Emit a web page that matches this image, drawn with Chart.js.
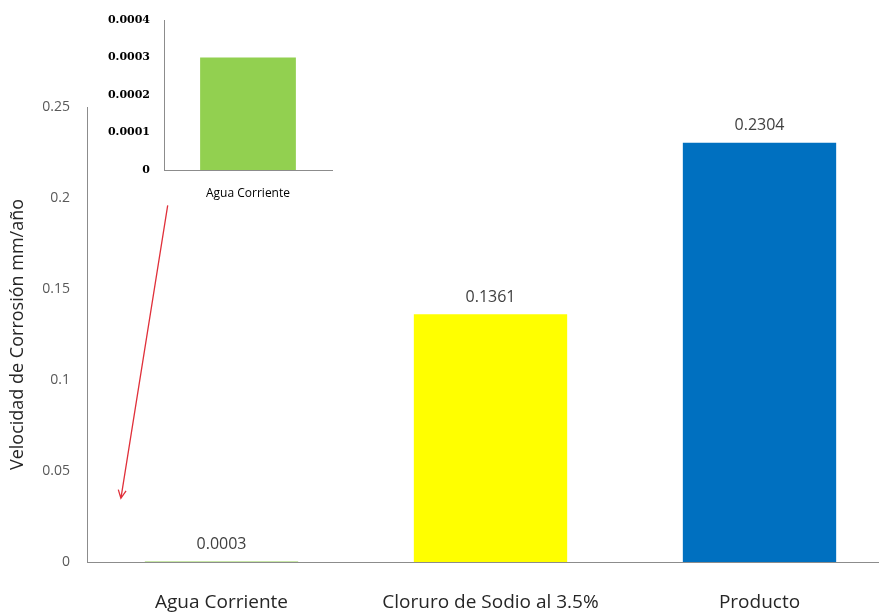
<!DOCTYPE html>
<html>
<head>
<meta charset="utf-8">
<script src="https://cdn.jsdelivr.net/npm/chart.js@4"></script>
<style>
  html, body { margin: 0; padding: 0; background: #fff; overflow: hidden; }
  #wrap { position: relative; width: 879px; height: 612px; overflow: hidden; }
  #main { position: absolute; left: 0; top: 0; }
  #inset { position: absolute; left: 0; top: 0; }
</style>
</head>
<body>
<div id="wrap">
  <canvas id="main" width="895" height="612"></canvas>
  <canvas id="inset" width="340" height="210"></canvas>
</div>
<script>
// data
const categories = ['Agua Corriente', 'Cloruro de Sodio al 3.5%', 'Producto'];
const rates = [0.0003, 0.1361, 0.2304];
const barColors = ['#92D050', '#FFFF00', '#0070C0'];
const yTicks = [0, 0.05, 0.1, 0.15, 0.2, 0.25];

const insetCategories = ['Agua Corriente'];
const insetRates = [0.0003];
const insetTicks = [0, 0.0001, 0.0002, 0.0003, 0.0004];

// arrow from the inset down to the small bar (category index, value)
const arrowFrom = [-0.2, 0.196];
const arrowTo = [-0.374, 0.035];

// value labels above the bars
const valueLabels = {
  id: 'valueLabels',
  afterDatasetsDraw(chart) {
    const ctx = chart.ctx;
    const meta = chart.getDatasetMeta(0);
    ctx.save();
    ctx.font = '16px "Open Sans"';
    ctx.fillStyle = '#404040';
    ctx.textAlign = 'center';
    ctx.textBaseline = 'middle';
    meta.data.forEach((bar, i) => {
      ctx.fillText(String(rates[i]), bar.x, bar.y - 17);
    });
    ctx.restore();
  }
};

const arrow = {
  id: 'arrow',
  afterDraw(chart) {
    const x = chart.scales.x, y = chart.scales.y;
    const x1 = x.getPixelForValue(arrowFrom[0]), y1 = y.getPixelForValue(arrowFrom[1]);
    const x2 = x.getPixelForValue(arrowTo[0]), y2 = y.getPixelForValue(arrowTo[1]);
    const ctx = chart.ctx;
    const a = Math.atan2(y2 - y1, x2 - x1);
    ctx.save();
    ctx.strokeStyle = '#E0303A';
    ctx.lineWidth = 1.3;
    ctx.beginPath();
    ctx.moveTo(x1, y1);
    ctx.lineTo(x2, y2);
    ctx.moveTo(x2 - 9 * Math.cos(a - 0.45), y2 - 9 * Math.sin(a - 0.45));
    ctx.lineTo(x2, y2);
    ctx.lineTo(x2 - 9 * Math.cos(a + 0.45), y2 - 9 * Math.sin(a + 0.45));
    ctx.stroke();
    ctx.restore();
  }
};

new Chart(document.getElementById('main'), {
  type: 'bar',
  data: {
    labels: categories,
    datasets: [{
      data: rates,
      backgroundColor: barColors,
      borderWidth: 0,
      barPercentage: 0.57,
      categoryPercentage: 1
    }]
  },
  options: {
    responsive: false,
    animation: false,
    layout: { padding: { top: 107, right: 1, left: 0, bottom: 0 } },
    plugins: { legend: { display: false }, tooltip: { enabled: false } },
    scales: {
      x: {
        grid: { display: false },
        border: { display: true, color: '#8C8C8C', width: 1 },
        ticks: { font: { family: 'Open Sans', size: 19 }, color: '#262626', padding: 21, maxRotation: 0 },
        afterFit(s) { s.height = 50; }
      },
      y: {
        min: 0,
        max: 0.25,
        grid: { display: false },
        border: { display: true, color: '#8C8C8C', width: 1 },
        afterBuildTicks(s) { s.ticks = yTicks.map(v => ({ value: v })); },
        ticks: {
          font: { family: 'Open Sans', size: 14 },
          color: '#595959',
          padding: 9,
          callback: v => String(v)
        },
        title: {
          display: true,
          text: 'Velocidad de Corrosión mm/año',
          font: { family: 'Open Sans', size: 18 },
          color: '#262626',
          padding: { top: 7, bottom: 0 }
        },
        afterFit(s) { s.width = 87; }
      }
    }
  },
  plugins: [valueLabels, arrow]
});

new Chart(document.getElementById('inset'), {
  type: 'bar',
  data: {
    labels: insetCategories,
    datasets: [{
      data: insetRates,
      backgroundColor: '#92D050',
      borderWidth: 0,
      barPercentage: 0.57,
      categoryPercentage: 1
    }]
  },
  options: {
    responsive: false,
    animation: false,
    layout: { padding: { top: 20, right: 8, left: 0, bottom: 0 } },
    plugins: { legend: { display: false }, tooltip: { enabled: false } },
    scales: {
      x: {
        grid: { display: false },
        border: { display: true, color: '#8C8C8C', width: 1 },
        ticks: { font: { family: 'Open Sans', size: 12 }, color: '#000', padding: 8, maxRotation: 0 },
        afterFit(s) { s.height = 40; }
      },
      y: {
        min: 0,
        max: 0.0004,
        grid: { display: false },
        border: { display: true, color: '#8C8C8C', width: 1 },
        afterBuildTicks(s) { s.ticks = insetTicks.map(v => ({ value: v })); },
        ticks: {
          font: { family: 'DejaVu Serif', size: 11, weight: 'bold' },
          color: '#000',
          padding: 6,
          callback: v => String(v)
        },
        afterFit(s) { s.width = 164; }
      }
    }
  }
});
</script>
</body>
</html>
